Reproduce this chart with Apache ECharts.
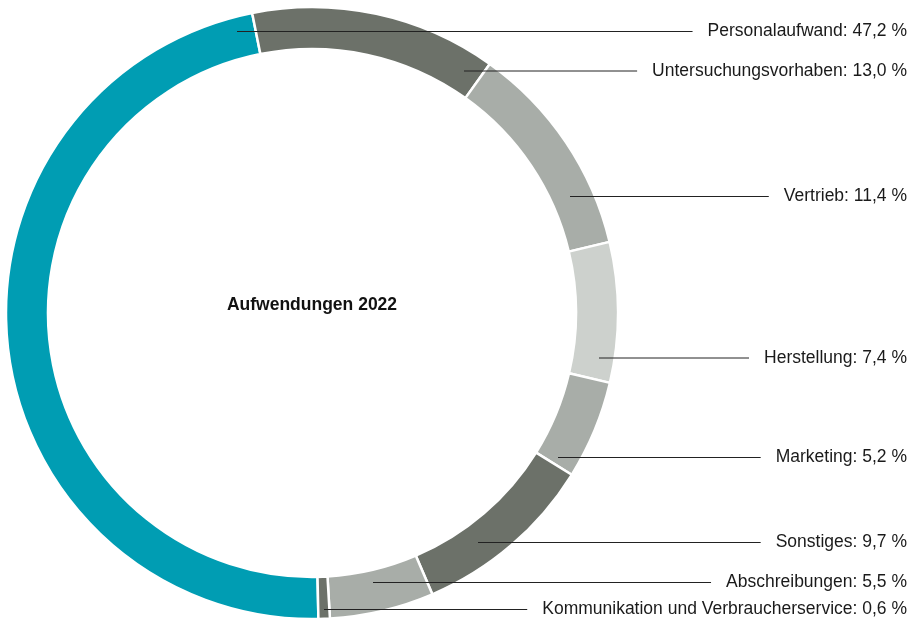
<!DOCTYPE html>
<html>
<head>
<meta charset="utf-8">
<script src="https://cdn.jsdelivr.net/npm/echarts@6/dist/echarts.min.js"></script>
<style>
  html, body { margin: 0; padding: 0; background: #fff; }
  #chart { width: 912px; height: 621px; }
</style>
</head>
<body>
<div id="chart"></div>
<script>
// Aufwendungen 2022, Anteile in %
var categories = [
  'Personalaufwand',
  'Untersuchungsvorhaben',
  'Vertrieb',
  'Herstellung',
  'Marketing',
  'Sonstiges',
  'Abschreibungen',
  'Kommunikation und Verbraucherservice'
]
var shares = [47.2, 13.0, 11.4, 7.4, 5.2, 9.7, 5.5, 0.6]
var title = 'Aufwendungen 2022'

// colours and label placement (pixels)
var colors = ['#009db3', '#6c7169', '#a8ada8', '#cdd1cd', '#a8ada8', '#6c7169', '#a8ada8', '#6c7169']
var labelY = [31.5, 71, 196.5, 358, 457.5, 542.5, 582.5, 609.5]
var anchorX = [237, 464, 570, 599, 558, 478, 373, 324]
var labelRight = 907
var lineGap = 15
var font = '17.5px "Liberation Sans", Arial, sans-serif'

var fmt = function (v) {
  return v.toFixed(1).replace('.', ',') + ' %'
}

var ctx = document.createElement('canvas').getContext('2d')
ctx.font = font
var textWidth = function (t) {
  return ctx.measureText(t).width
}

var graphics = [{
  type: 'text',
  x: 312,
  y: 305,
  style: {
    text: title,
    align: 'center',
    verticalAlign: 'middle',
    font: 'bold 17.5px "Liberation Sans", Arial, sans-serif',
    fill: '#111'
  }
}]

categories.forEach(function (c, i) {
  var txt = c + ': ' + fmt(shares[i])
  var endX = labelRight - textWidth(txt) - lineGap
  graphics.push({
    type: 'line',
    z: 10,
    shape: { x1: anchorX[i], y1: labelY[i], x2: endX, y2: labelY[i] },
    style: { stroke: '#222', lineWidth: 1 }
  })
  graphics.push({
    type: 'text',
    x: labelRight,
    y: labelY[i],
    style: {
      text: txt,
      align: 'right',
      verticalAlign: 'middle',
      font: font,
      fill: '#1a1a1a'
    }
  })
})

var chart = echarts.init(document.getElementById('chart'))
chart.setOption({
  animation: false,
  graphic: graphics,
  series: [{
    type: 'pie',
    center: [312, 313],
    radius: [264, 306],
    startAngle: -88.8,
    clockwise: true,
    silent: true,
    z: 1,
    itemStyle: {
      borderColor: '#fff',
      borderWidth: 2.5
    },
    label: { show: false },
    labelLine: { show: false },
    data: categories.map(function (c, i) {
      return { name: c, value: shares[i], itemStyle: { color: colors[i] } }
    })
  }]
})
</script>
</body>
</html>
